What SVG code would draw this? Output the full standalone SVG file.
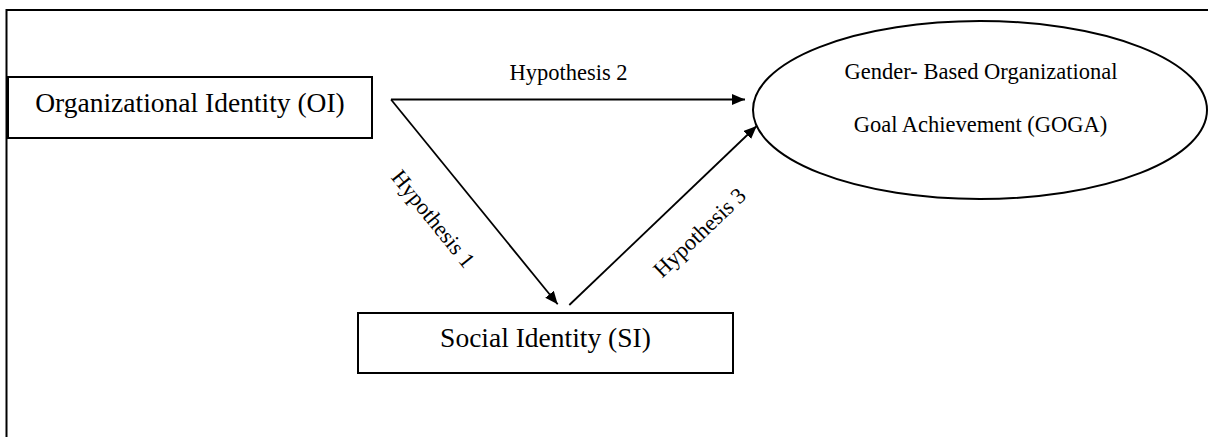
<svg xmlns="http://www.w3.org/2000/svg" width="1208" height="437" viewBox="0 0 1208 437">
  <style>
    .box { fill: #ffffff; stroke: #000000; stroke-width: 2; }
    .frame { fill: none; stroke: #000000; stroke-width: 2; }
    .edge { fill: none; stroke: #000000; stroke-width: 1.8; }
    .label { font-family: "Liberation Serif", "Times New Roman", serif; fill: #000000; text-anchor: middle; }
    .big { font-size: 27.5px; }
    .small { font-size: 22.5px; }
  </style>
  <defs>
    <marker id="arrow" markerUnits="userSpaceOnUse" markerWidth="14" markerHeight="12" refX="13" refY="5.5" orient="auto">
      <path d="M0,0 L13,5.5 L0,11 z" fill="#000000"/>
    </marker>
  </defs>

  <rect width="1208" height="437" fill="#ffffff"/>
  <!-- outer frame: top and left edges -->
  <path class="frame" d="M6.5,437 L6.5,10 L1208,10"/>

  <g id="oi">
    <rect class="box" x="8" y="77" width="364" height="61"/>
    <text class="label big" x="190" y="112">Organizational Identity (OI)</text>
  </g>

  <g id="si">
    <rect class="box" x="358" y="313" width="375" height="60"/>
    <text class="label big" x="545.5" y="347">Social Identity (SI)</text>
  </g>

  <g id="goga">
    <ellipse class="box" cx="980" cy="110" rx="227" ry="89"/>
    <text class="label small" x="981" y="78.5">Gender- Based Organizational</text>
    <text class="label small" x="980.5" y="132">Goal Achievement (GOGA)</text>
  </g>

  <g id="connectors">
    <line class="edge" x1="391" y1="99.5" x2="745" y2="99.5" marker-end="url(#arrow)"/>
    <line class="edge" x1="391" y1="99.5" x2="557.7" y2="304.3" marker-end="url(#arrow)"/>
    <line class="edge" x1="569.3" y1="305" x2="756.7" y2="126" marker-end="url(#arrow)"/>
    <text class="label small" x="568.5" y="79.5">Hypothesis 2</text>
    <text class="label small" transform="translate(427.5,223.5) rotate(51)">Hypothesis 1</text>
    <text class="label small" transform="translate(704.8,238) rotate(-43.7)">Hypothesis 3</text>
  </g>
</svg>
